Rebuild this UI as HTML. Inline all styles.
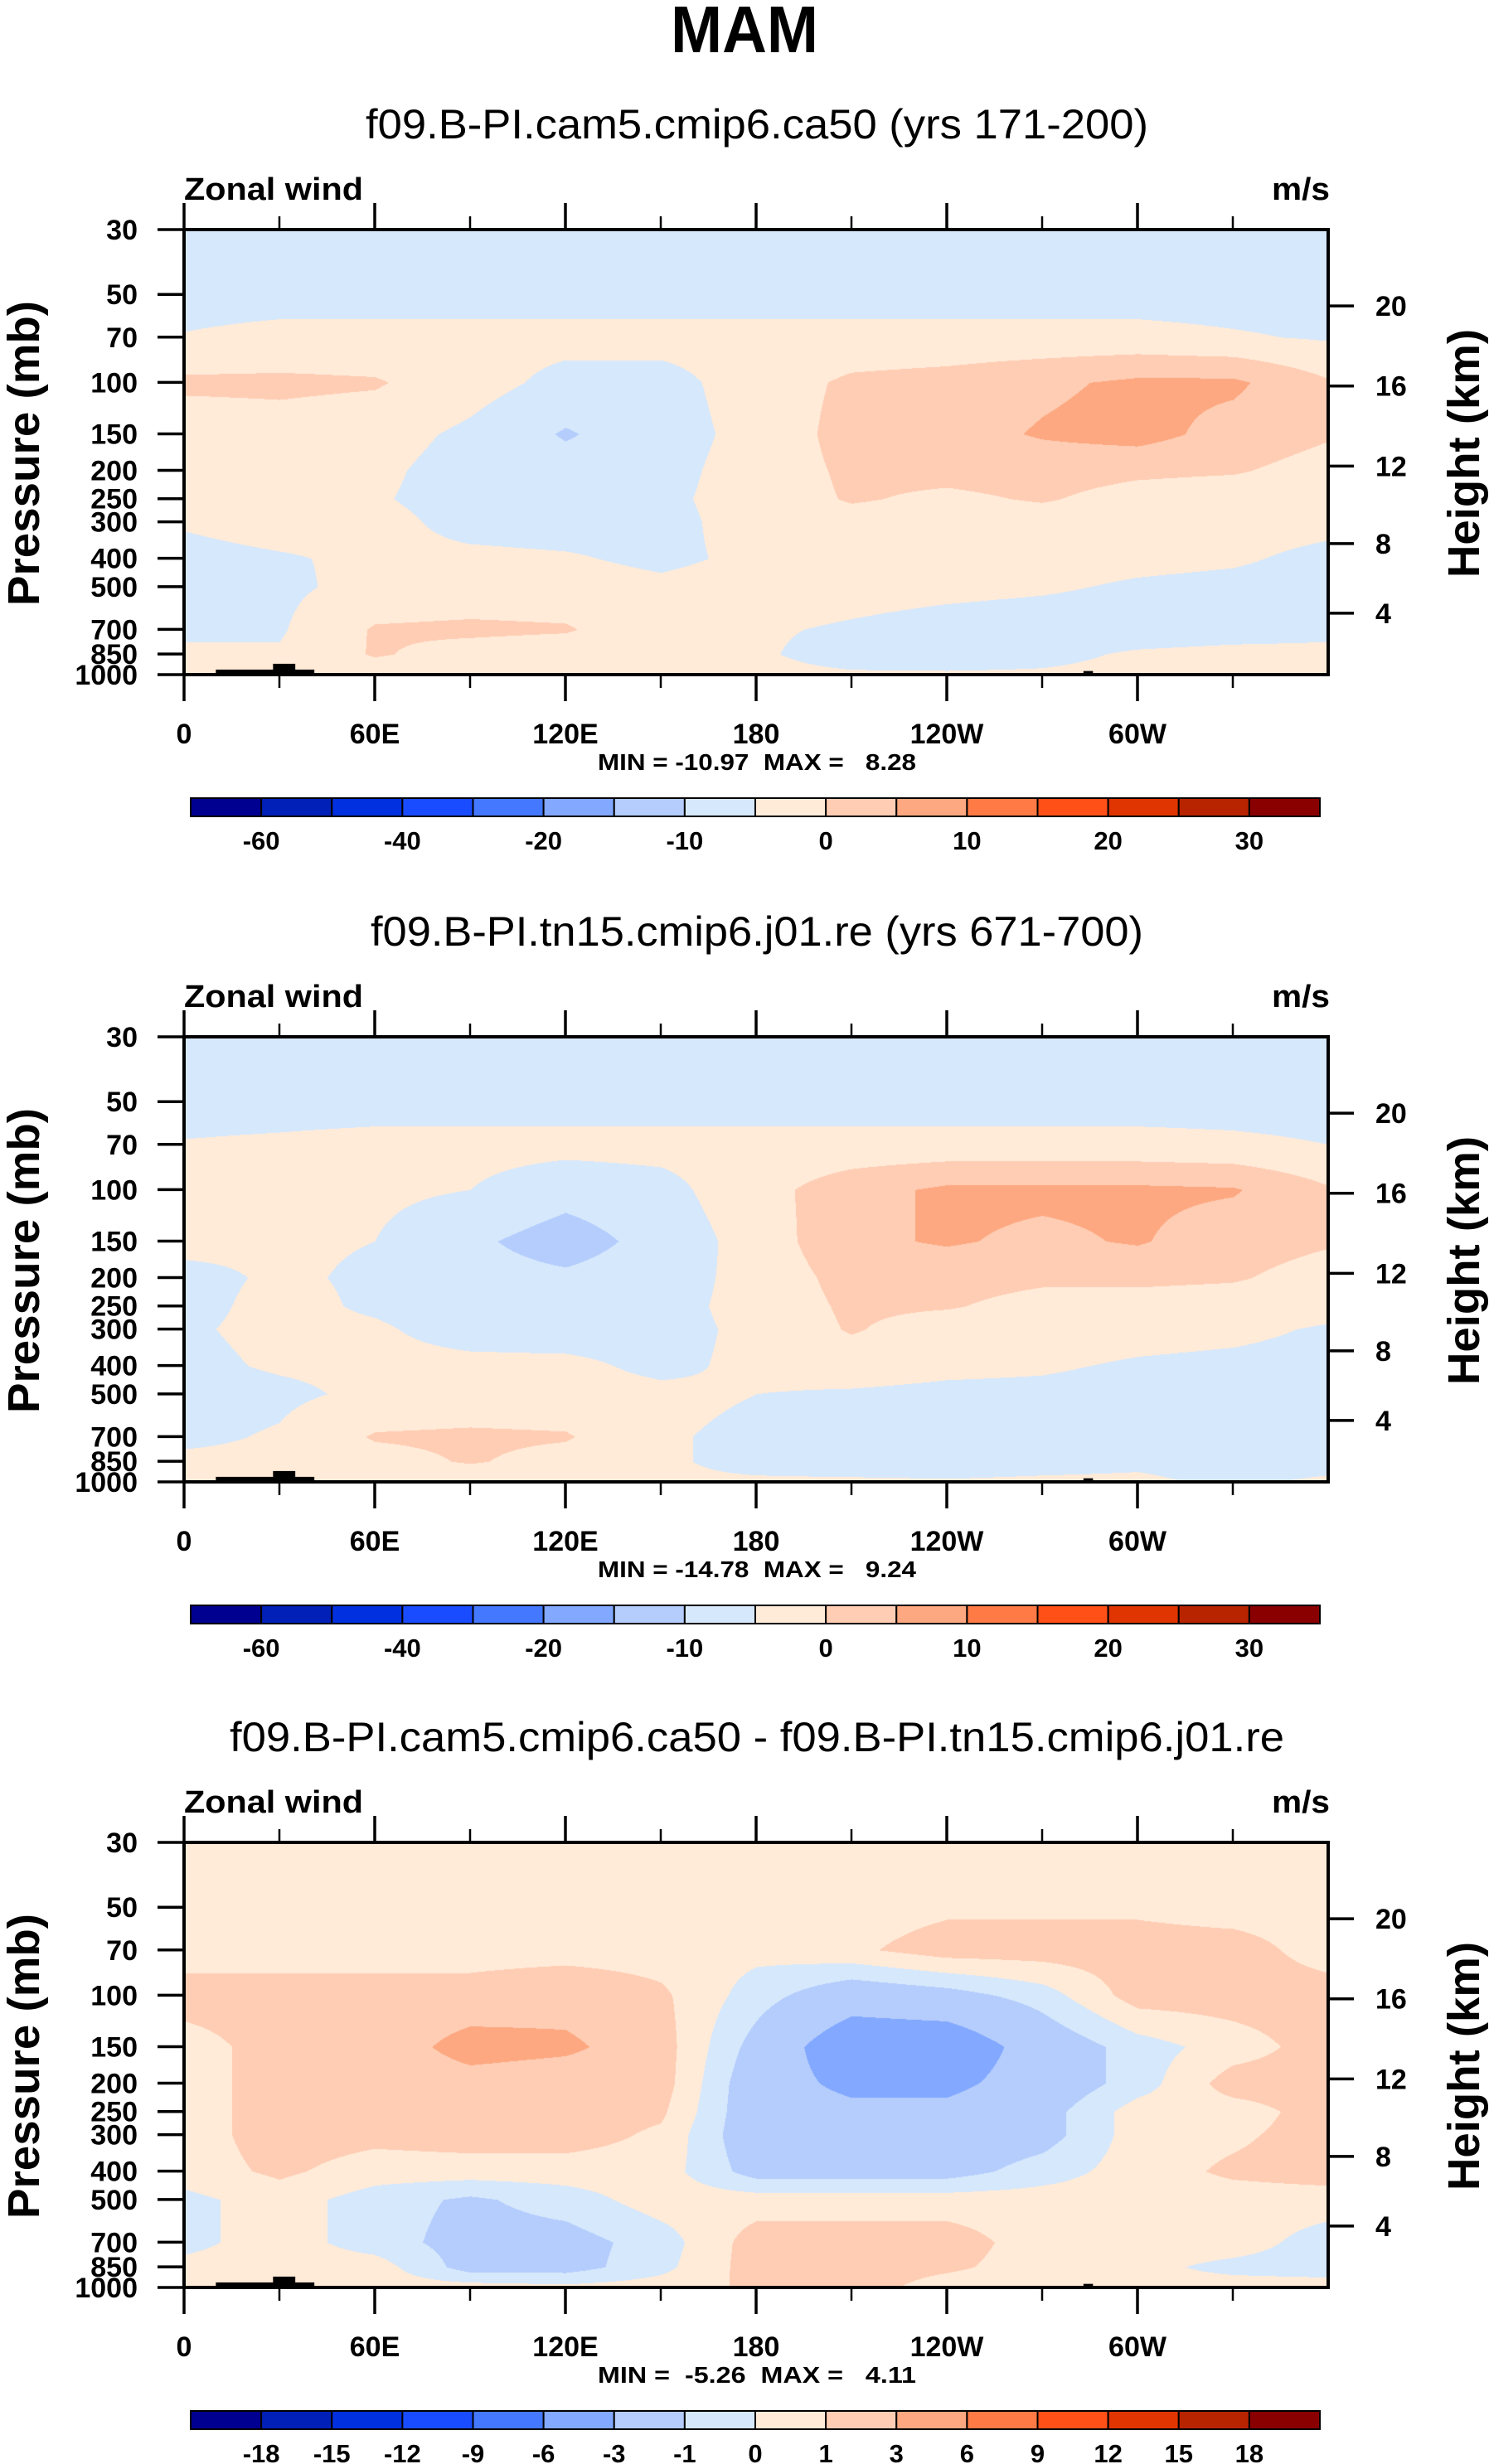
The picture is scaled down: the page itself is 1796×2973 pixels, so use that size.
<!DOCTYPE html>
<html><head><meta charset="utf-8"><style>
html,body{margin:0;padding:0;background:#fff;}
#root{position:relative;width:1796px;height:2973px;overflow:hidden;background:#fff;}
canvas{position:absolute;}
svg{position:absolute;left:0;top:0;}
</style></head><body>
<div id="root">
<canvas id="c0" width="1380" height="537" style="left:222px;top:277px"></canvas>
<canvas id="c1" width="1380" height="537" style="left:222px;top:1251px"></canvas>
<canvas id="c2" width="1380" height="537" style="left:222px;top:2223px"></canvas>
<svg id="ov" width="1796" height="2973" xmlns="http://www.w3.org/2000/svg"></svg>
</div>
<script>
// ---- data ----
const lons = [0,30,60,90,120,150,180,210,240,270,300,330,360];
const levels = [30,50,70,100,150,200,250,300,400,500,700,850,1000];
const u1 = [
[-8,-8,-8,-8,-8,-8,-8,-8,-8,-8,-8,-8,-8],
[-7,-7,-7,-7,-7,-7,-7,-7,-7,-7,-7,-7,-7],
[-4.7,-3.5,-3.5,-3.5,-3.5,-3.5,-3.5,-3.5,-3.5,-3.5,-3.5,-4.5,-5.5],
[1,1,0.5,-3,-6.5,-6.5,-3,1,2,4,6,6,0.5],
[-3,-2,-3,-6,-10.5,-7,-3.5,2,3,5.5,7,3,0.5],
[-3,-2,-4,-7,-8,-6.5,-3,1,1.5,2,1,0.5,-2],
[-3,-3,-4.5,-7,-7.5,-6,-3,0.5,-1,0.5,-2,-3,-3.5],
[-4.5,-3,-3.5,-6.5,-7,-6.5,-3,-2,-2.5,-2.5,-3,-3.5,-4],
[-6.5,-5.5,-4,-4,-4.5,-6,-4,-3,-3,-3.5,-4,-4.5,-6],
[-7,-6,-3.5,-3,-3,-4,-3,-3.5,-4,-4.5,-5.5,-6,-6.5],
[-6,-5.5,0.5,1,0.5,-3.5,-4.5,-5.5,-6.5,-7,-7,-6.5,-6],
[-4,-4.5,0.5,-2,-3,-3.5,-4.5,-6.5,-7,-6,-4.5,-4,-4],
[-1,-3,-3,-4,-4,-4,-4,-4.5,-4.5,-4.5,-4,-4,-3]];
const u2 = [
[-8,-8,-8,-8,-8,-8,-8,-8,-8,-8,-8,-8,-8],
[-7,-7,-7,-7,-7,-7,-7,-7,-7,-7,-7,-7,-7],
[-4.7,-4.2,-3.5,-3.5,-3.5,-3.5,-3.5,-3.5,-3.5,-3.5,-3.5,-4,-5],
[-3.5,-3.5,-4,-5,-8,-6.5,-2,3,6,6,6,5.5,0.5],
[-4,-4.5,-5,-9,-12.5,-8,-3,4,5.5,4,5.5,2,0.5],
[-6,-4.5,-5.5,-8,-9,-7,-3.5,2,2,1,1,0.5,-2],
[-6,-4,-5.5,-7,-7,-6.5,-3.5,1,0.5,-2,-2,-2.5,-3.5],
[-5.5,-4,-4.5,-6.5,-7,-6.5,-4,0.5,-3,-3,-3.5,-4,-5.5],
[-6,-4.5,-4,-4,-4,-6,-4,-3,-4,-4.5,-5.5,-6,-6.5],
[-7,-6,-4,-3.5,-3.5,-4,-5,-5.5,-6,-6,-6.5,-7,-7],
[-6,-4.5,0.5,1,0.5,-4.5,-6,-6.5,-7,-7,-6.5,-6.5,-6.5],
[-4,-4,-2,0.5,-2,-4.5,-6,-6.5,-6.5,-6,-5.5,-6,-6],
[-2,-3,-4,-4,-4,-4.5,-4.5,-4.5,-4.7,-4.5,-4.5,-5.5,-4.5]];
const du = [
[0.5,0.5,0.5,0.5,0.5,0.5,0.5,0.5,0.5,0.5,0.5,0.5,0.5],
[0.5,0.5,0.5,0.5,0.5,0.5,0.5,0.5,0.8,0.8,0.8,0.5,0.5],
[0.5,0.5,0.5,0.5,0.5,0.5,0.3,0.8,1.5,1.5,1.5,1.5,0.5],
[1.5,1.5,1.5,1.5,2,1.2,-0.5,-2,-1.5,-0.5,1.5,1.5,1.5],
[0.5,1.5,1.5,4,3.5,1.5,-1.5,-4.5,-4.5,-2,-0.5,0.5,1.5],
[0.5,1.5,1.5,2,1.5,1.5,-2,-3.5,-3.5,-2,-0.5,1.5,1.5],
[0.5,1.5,1.5,1.5,1.5,1.2,-2,-2.5,-2.5,-1.5,0.5,0.5,1.5],
[0.5,1.5,1.3,1.5,1.5,0.8,-2,-2,-2,-1.5,0.5,0.8,1.5],
[0.5,1.2,0.5,0.5,0.5,0.5,-1.5,-1.5,-1.5,-0.5,0.5,1.2,1.5],
[-0.3,0.5,-0.5,-1.2,-0.5,0.5,0.5,0.5,0.5,0.5,0.5,0.5,0.5],
[-0.3,0.5,-0.5,-1.5,-1.5,-0.5,1.5,1.5,1.5,0.5,0.5,0.5,-0.5],
[0.3,0.5,0.5,-1.5,-1.5,-0.3,1.5,1.5,1.2,0.5,0.3,-0.3,-0.5],
[0.5,0.5,0.5,0.5,0.3,0.5,1.2,1.5,0.5,0.3,0.3,0.5,0.5]];
const bounds12 = [-60,-50,-40,-30,-20,-15,-10,-5,0,5,10,15,20,25,30];
const boundsDiff = [-18,-15,-12,-9,-6,-3,-1,0,1,3,6,9,12,15,18];
const palette = ["#000090","#0020b8","#0030e0","#1a4cff","#4478ff","#82a8ff","#b4cdfc","#d6e8fc","#ffebd8","#ffcdb4","#fda880","#ff7a44","#ff5018","#e03500","#b82400","#8a0000"];
const subtitles = ["f09.B-PI.cam5.cmip6.ca50 (yrs 171-200)","f09.B-PI.tn15.cmip6.j01.re (yrs 671-700)","f09.B-PI.cam5.cmip6.ca50 - f09.B-PI.tn15.cmip6.j01.re"];
const minmax = ["MIN = -10.97  MAX =   8.28","MIN = -14.78  MAX =   9.24","MIN =  -5.26  MAX =   4.11"];
const lonTicks = [0,60,120,180,240,300];
const lonTickLabels = ["0","60E","120E","180","120W","60W"];
const lonMinor = [30,90,150,210,270,330];
const presTicks = [30,50,70,100,150,200,250,300,400,500,700,850,1000];
const heightTicks = [4,8,12,16,20];
const topo = [[10,41,961],[28,35,918],[98,101,990],[280,310,988],[283,286,972]];

// ---- geometry ----
const PL=222, PR=1602, PT=277, PH=537, PW=PR-PL;
const offs=[0,974,1946];
const LR=Math.log(1000/30);
function xOf(lon){return PL+lon/360*PW;}
function yOf(p,o){return PT+o+Math.log(p/30)/LR*PH;}
function pOfZ(z){const m=z*1000; return m<=11000?1013.25*Math.pow(1-2.25577e-5*m,5.25588):226.32*Math.exp(-(m-11000)/6341.6);}
function colorIdx(v,b){let k=0;for(const t of b){if(v>=t)k++;}return k;}

function drawField(id,grid,b){
  const cv=document.getElementById(id),ctx=cv.getContext('2d');
  const img=ctx.createImageData(PW,PH);
  const rgb=palette.map(h=>[parseInt(h.substr(1,2),16),parseInt(h.substr(3,2),16),parseInt(h.substr(5,2),16)]);
  const ly=levels.map(p=>Math.log(p/30)/LR*PH);
  for(let py=0;py<PH;py++){
    let i=0;while(i<levels.length-2&&py>ly[i+1])i++;
    const t=Math.min(1,Math.max(0,(py-ly[i])/(ly[i+1]-ly[i])));
    for(let px=0;px<PW;px++){
      const lon=px/PW*360;let j=Math.min(11,Math.floor(lon/30));const s=(lon-lons[j])/30;
      const v=(1-t)*((1-s)*grid[i][j]+s*grid[i][j+1])+t*((1-s)*grid[i+1][j]+s*grid[i+1][j+1]);
      const c=rgb[colorIdx(v,b)];const k=(py*PW+px)*4;
      img.data[k]=c[0];img.data[k+1]=c[1];img.data[k+2]=c[2];img.data[k+3]=255;
    }
  }
  ctx.putImageData(img,0,0);
}
drawField('c0',u1,bounds12);
drawField('c1',u2,bounds12);
drawField('c2',du,boundsDiff);

const NS="http://www.w3.org/2000/svg";
const ov=document.getElementById('ov');
function el(tag,name){const e=document.createElementNS(NS,tag);
  
  
  ov.appendChild(e);return e;}
function line(x1,y1,x2,y2,w,name){const e=el('line',name);e.setAttribute('x1',x1);e.setAttribute('y1',y1);e.setAttribute('x2',x2);e.setAttribute('y2',y2);e.setAttribute('stroke','#000');e.setAttribute('stroke-width',w);return e;}
function text(x,y,s,size,weight,anchor,name,len){const e=el('text',name);e.setAttribute('x',x);e.setAttribute('y',y);e.setAttribute('font-size',size);e.setAttribute('font-weight',weight);e.setAttribute('text-anchor',anchor);e.setAttribute('font-family','Liberation Sans, Arial, sans-serif');e.setAttribute('style','white-space:pre');if(len){e.setAttribute('textLength',len);e.setAttribute('lengthAdjust','spacingAndGlyphs');}e.textContent=s;return e;}

text(898,63,"MAM",80,"bold","middle","main-title",178);

offs.forEach((o,pi)=>{
  const bnds = pi<2?bounds12:boundsDiff;
  topo.forEach(tp=>{const r=el('rect','topography');r.setAttribute('x',xOf(tp[0]));r.setAttribute('width',xOf(tp[1])-xOf(tp[0]));r.setAttribute('y',yOf(tp[2],o));r.setAttribute('height',yOf(1000,o)-yOf(tp[2],o));r.setAttribute('fill','#000');});
  const fr=el('rect','plot-frame');fr.setAttribute('x',PL);fr.setAttribute('y',PT+o);fr.setAttribute('width',PW);fr.setAttribute('height',PH);fr.setAttribute('fill','none');fr.setAttribute('stroke','#000');fr.setAttribute('stroke-width',4);
  const sw=[944,932,1272][pi];
  text(913,PT+o-110,subtitles[pi],50,"normal","middle","panel-subtitle",sw);
  text(PL,PT+o-36,"Zonal wind",38,"bold","start","left-string",216);
  text(PR+2,PT+o-36,"m/s",38,"bold","end","units-label",70);
  lonTicks.forEach((ln,k)=>{
    line(xOf(ln),PT+o,xOf(ln),PT+o-32,3.5,'top-major-tick');
    line(xOf(ln),PT+o+PH,xOf(ln),PT+o+PH+32,3.5,'bottom-major-tick');
    text(xOf(ln),PT+o+620,lonTickLabels[k],34,"bold","middle","x-tick-label");
  });
  lonMinor.forEach(ln=>{
    line(xOf(ln),PT+o,xOf(ln),PT+o-16,2.5,'top-minor-tick');
    line(xOf(ln),PT+o+PH,xOf(ln),PT+o+PH+16,2.5,'bottom-minor-tick');
  });
  presTicks.forEach(p=>{
    line(PL,yOf(p,o),PL-32,yOf(p,o),3.5,'y-tick');
    text(166,yOf(p,o)+12,String(p),34,"bold","end","y-tick-label");
  });
  heightTicks.forEach(z=>{
    const y=yOf(pOfZ(z),o);
    line(PR,y,PR+31,y,3.5,'height-tick');
    text(1659,y+12,String(z),34,"bold","start","height-tick-label");
  });
  const pl=text(0,0,"Pressure (mb)",54,"bold","middle","y-axis-title",368);pl.setAttribute('transform','translate(47,'+(PT+o+270)+') rotate(-90)');
  const hl=text(0,0,"Height (km)",54,"bold","middle","right-axis-title",300);hl.setAttribute('transform','translate(1784,'+(PT+o+270)+') rotate(-90)');
  text(913,PT+o+652,minmax[pi],28,"bold","middle","min-max-label",384);
  const cbx0=230,cbx1=1592,cbw=(cbx1-cbx0)/16,cby=PT+o+686;
  palette.forEach((c,k)=>{const r=el('rect','colorbar-box');r.setAttribute('x',cbx0+k*cbw);r.setAttribute('y',cby);r.setAttribute('width',cbw);r.setAttribute('height',22);r.setAttribute('fill',c);r.setAttribute('stroke','#000');r.setAttribute('stroke-width',2);});
  bnds.forEach((b,k)=>{ if(pi<2 && k%2==1) return;
    text(cbx0+(k+1)*cbw,PT+o+748,String(b),31,"bold","middle","colorbar-label");});
});
</script>
</body></html>
